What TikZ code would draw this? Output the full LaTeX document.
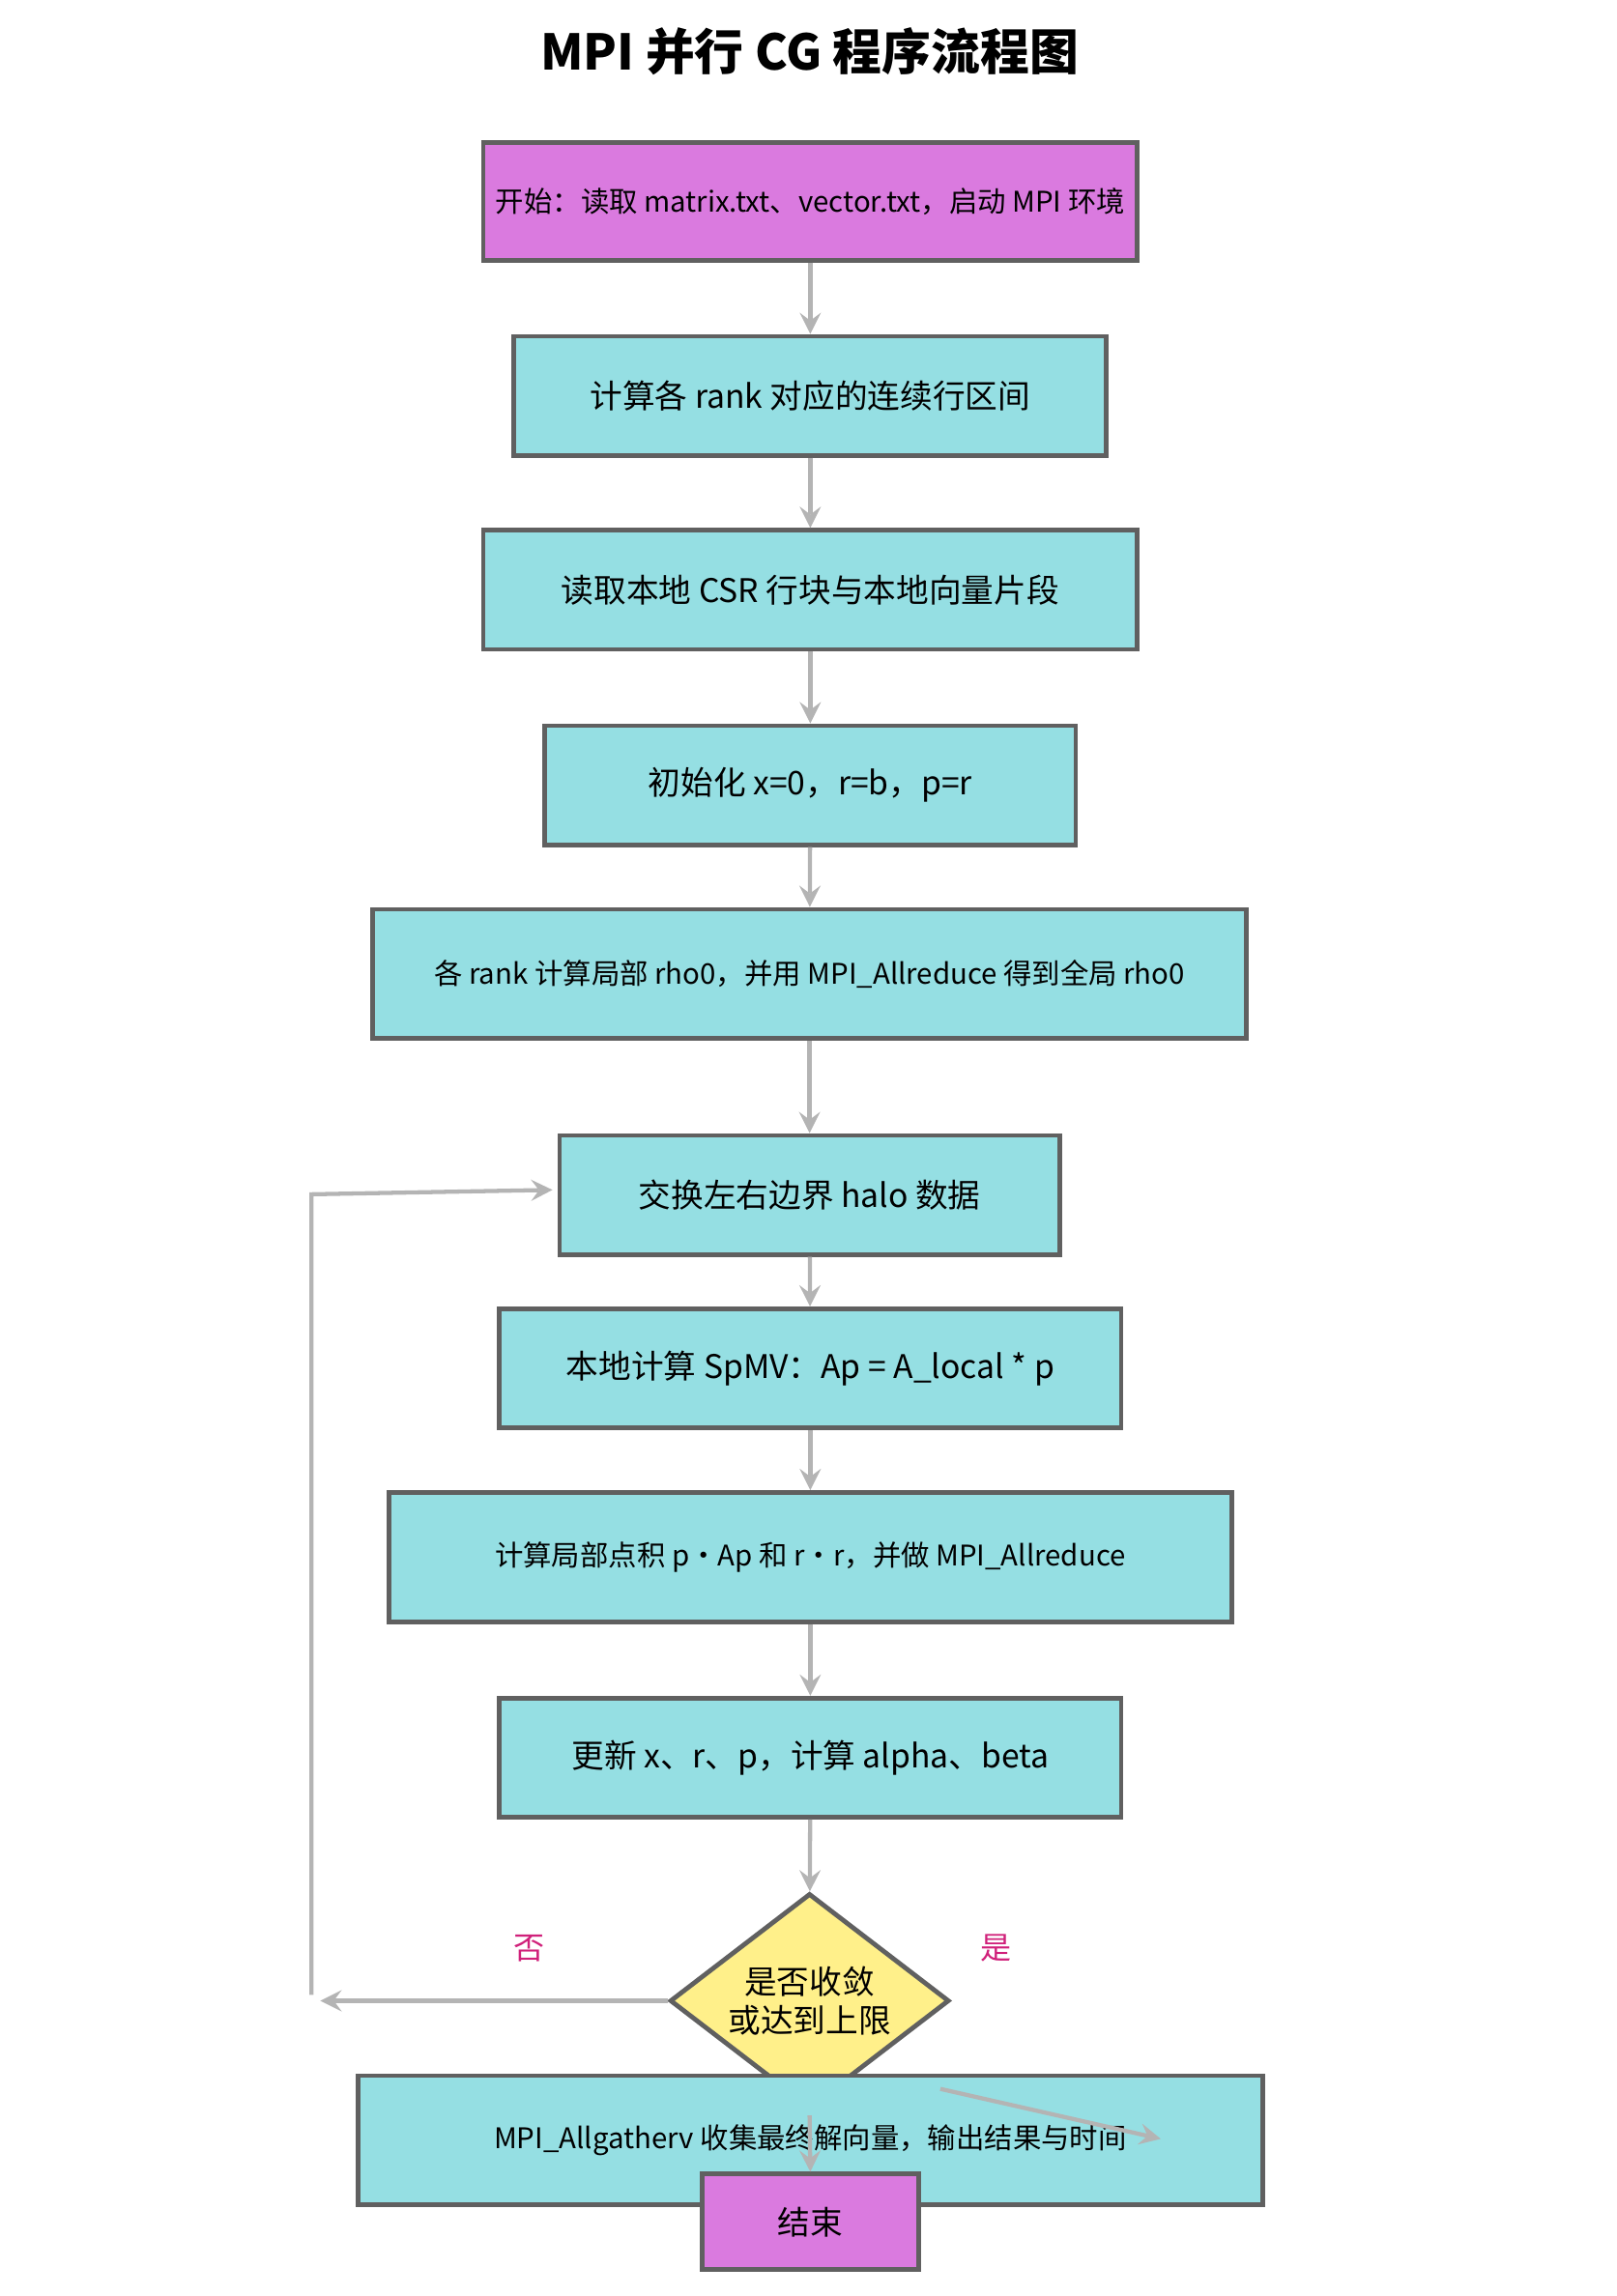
\documentclass[tikz,border=0pt]{standalone}
\usepackage{fontspec}
\setmainfont{Noto Sans CJK SC}
\usetikzlibrary{shapes.geometric}
\definecolor{boxcyan}{HTML}{95DFE3}
\definecolor{boxpink}{HTML}{DA7ADF}
\definecolor{boxyellow}{HTML}{FFF08A}
\definecolor{edgegray}{HTML}{606060}
\definecolor{linegray}{HTML}{B4B4B4}
\definecolor{labpink}{HTML}{D0207A}
\tikzset{
  procbox/.style={draw=edgegray, line width=0.9pt, fill=boxcyan, inner sep=0pt, font=\fontsize{6.3}{7.5}\selectfont},
  small/.style={font=\fontsize{5.5}{6.5}\selectfont},
  flow/.style={draw=linegray, line width=0.8pt, ->, >=stealth},
}
\begin{document}
\begin{tikzpicture}[x=0.01cm, y=-0.01cm]
\useasboundingbox (0,0) rectangle (1100,1563);

\node[font=\fontsize{9.5}{11}\bfseries] (title) at (551,35) {MPI 并行 CG 程序流程图};

\node[procbox, fill=boxpink, small, minimum width=4.45cm, minimum height=0.8cm] (start) at (551.5,137) {开始：读取 matrix.txt、vector.txt，启动 MPI 环境};
\node[procbox, minimum width=4.03cm, minimum height=0.81cm] (range) at (551.5,269.5) {计算各 rank 对应的连续行区间};
\node[procbox, minimum width=4.45cm, minimum height=0.81cm] (read) at (551.5,401.5) {读取本地 CSR 行块与本地向量片段};
\node[procbox, minimum width=3.61cm, minimum height=0.81cm] (init) at (551.5,534.5) {初始化 x=0，r=b，p=r};
\node[procbox, small, minimum width=5.94cm, minimum height=0.88cm] (rho) at (551,663) {各 rank 计算局部 rho0，并用 MPI\_Allreduce 得到全局 rho0};
\node[procbox, minimum width=3.4cm, minimum height=0.81cm] (halo) at (551,813.5) {交换左右边界 halo 数据};
\node[procbox, minimum width=4.23cm, minimum height=0.81cm] (spmv) at (551.5,931.5) {本地计算 SpMV：Ap = A\_local * p};
\node[procbox, small, minimum width=5.73cm, minimum height=0.88cm] (dot) at (551.5,1060) {计算局部点积 p·Ap 和 r·r，并做 MPI\_Allreduce};
\node[procbox, minimum width=4.23cm, minimum height=0.81cm] (upd) at (551.5,1196.5) {更新 x、r、p，计算 alpha、beta};
\node[draw=edgegray, line width=0.9pt, fill=boxyellow, diamond, aspect=1.3, minimum width=1.9cm, minimum height=1.46cm, inner sep=0pt, align=center, font=\fontsize{6.3}{7.5}\selectfont] (conv) at (551,1362) {是否收敛\\或达到上限};
\node[procbox, small, minimum width=6.15cm, minimum height=0.88cm] (gather) at (551.5,1457) {MPI\_Allgatherv 收集最终解向量，输出结果与时间};
\node[procbox, fill=boxpink, minimum width=1.47cm, minimum height=0.65cm] (stop) at (551.5,1512.5) {结束};

\draw[flow] (start) -- (range);
\draw[flow] (range) -- (read);
\draw[flow] (read) -- (init);
\draw[flow] (init) -- (rho);
\draw[flow] (rho) -- (halo);
\draw[flow] (halo) -- (spmv);
\draw[flow] (spmv) -- (dot);
\draw[flow] (dot) -- (upd);
\draw[flow] (upd) -- (conv);

% loop back
\coordinate (noend) at (218,1362);
\coordinate (up1) at (212,1358);
\coordinate (up2) at (212,813);
\coordinate (halo in) at (376,810);
\draw[flow] (conv.west) -- (noend);
\draw[flow] (up1) -- (up2) -- (halo in);
\node[text=labpink, font=\fontsize{6}{7}\selectfont] (no) at (360,1326) {否};
\node[text=labpink, font=\fontsize{6}{7}\selectfont] (yes) at (678,1326) {是};

% exit
\coordinate (yes from) at (640,1422);
\coordinate (yes to) at (790,1456);
\draw[flow] (yes from) -- (yes to);
\coordinate (end from) at (551,1440);
\draw[flow] (end from) -- (stop.north);
\end{tikzpicture}
\end{document}
